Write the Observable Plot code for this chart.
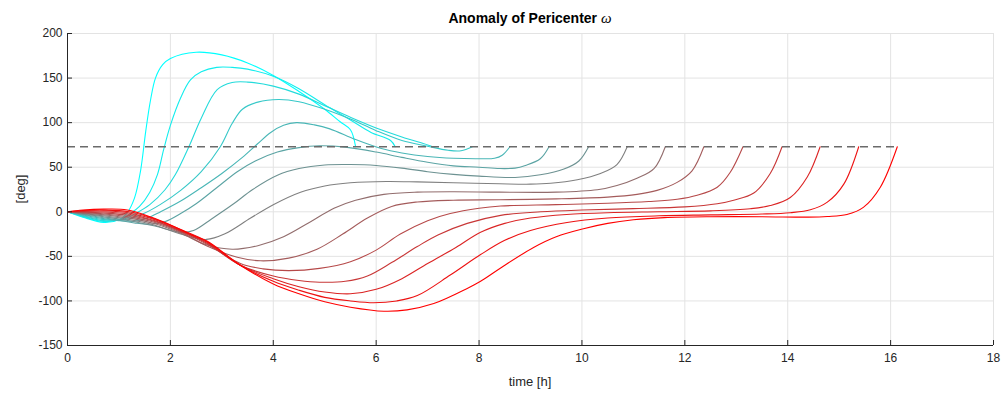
<!DOCTYPE html>
<html><head><meta charset="utf-8">
<script src="https://cdn.jsdelivr.net/npm/d3@7"></script>
<script src="https://cdn.jsdelivr.net/npm/@observablehq/plot@0.6"></script>
<style>html,body{margin:0;padding:0;background:#fff}svg{display:block}</style>
</head><body><div id="chart"></div>
<script>
// ---- data: [time h, omega deg] ----
const curve01 = [[0,0],[0.3,-6],[0.7,-12],[1.0,-9],[1.15,-2],[1.3,15],[1.42,46],[1.52,90],[1.61,124],[1.71,150],[1.85,165],[2.0,172],[2.5,179],[3.0,176],[3.5,167],[4.0,153],[4.5,135],[5.0,115],[5.3,101],[5.5,92],[5.6,73]];
const curve02 = [[0,0],[0.3,-5.4],[0.7,-10.9],[1.0,-9],[1.22,-2],[1.4,6],[1.6,22],[1.75,42],[1.87,70],[2.0,97],[2.2,128],[2.39,148],[2.6,157],[2.9,162],[3.2,162],[3.5,160],[4.0,152],[4.5,138],[5.0,120],[5.5,103],[5.9,89],[6.28,80],[6.37,73]];
const curve03 = [[0,0],[0.3,-4.9],[0.7,-9.9],[1.1,-8],[1.32,-2],[1.6,8],[1.9,25],[2.1,42],[2.36,73],[2.6,105],[2.91,137],[3.2,145],[3.5,145.5],[4.0,141],[4.5,132],[5.0,119],[5.5,106],[6.0,94],[6.5,84],[7.0,75],[7.1,73]];
const curve04 = [[0,0],[0.3,-4.3],[0.7,-8.8],[1.1,-9],[1.48,-2],[1.8,8],[2.2,24],[2.6,45],[2.97,73],[3.2,99],[3.4,115],[3.7,123],[4.1,126],[4.5,123.5],[5.0,115],[5.5,104],[6.0,91],[6.5,80],[7.0,73.5],[7.4,69],[7.65,68.5],[7.87,73]];
const curve05 = [[0,0],[0.3,-3.7],[0.7,-7.7],[1.0,-10],[1.3,-10.5],[1.55,-7],[1.81,0],[2.2,12],[2.6,27],[3.0,43],[3.4,61],[3.69,76],[3.95,89],[4.2,97],[4.45,100],[4.8,97.5],[5.1,93],[5.6,81],[6.1,71],[6.5,66],[7.0,62],[7.5,60],[8.0,59.5],[8.3,60],[8.45,63.5],[8.6,73]];
const curve06 = [[0,0],[0.3,-3.1],[0.7,-6.6],[1.0,-9.5],[1.3,-12.5],[1.6,-14],[1.9,-11],[2.2,-2],[2.5,9],[2.9,27],[3.3,45],[3.65,57],[4.08,67],[4.5,72],[4.9,74],[5.4,72.5],[6.0,67],[6.5,61],[7.0,55.5],[7.5,51.5],[8.0,50],[8.4,48.5],[8.7,49],[8.9,52],[9.19,59.5],[9.36,73]];
const curve07 = [[0,0],[0.3,-2.6],[0.7,-5.6],[1.2,-10],[1.7,-16],[2.2,-23],[2.45,-21],[2.8,-8],[3.23,9],[3.6,25],[4.08,41],[4.5,48.5],[5.0,52.5],[5.5,53],[6.0,52],[6.5,49],[7.0,45],[7.5,42],[8.0,40],[8.7,38.5],[9.19,41.5],[9.65,48],[9.94,57],[10.13,73]];
const curve08 = [[0,0],[0.3,-2],[0.7,-4.5],[1.2,-8.6],[1.7,-15],[2.2,-25],[2.7,-31],[3.05,-25],[3.56,-7],[4.0,8],[4.53,22],[5.0,29],[5.5,32.5],[6.2,34],[6.8,33.5],[7.5,32.5],[8.4,31.4],[9.0,31],[9.39,32],[9.91,36],[10.36,43],[10.68,53],[10.88,73]];
const curve09 = [[0,0],[0.3,-1.4],[0.7,-3.4],[1.2,-7.1],[1.7,-13.5],[2.2,-24],[2.7,-37],[3.2,-42],[3.7,-38],[4.2,-28],[4.7,-12],[5.18,4],[5.6,13],[6.15,19.5],[6.8,22],[7.5,22.5],[8.4,22],[9.5,22],[10.3,24.7],[10.68,29.5],[11.07,37.7],[11.4,48.3],[11.62,73]];
const curve10 = [[0,0],[0.3,-0.9],[0.7,-2.4],[1.2,-5.7],[1.7,-12],[2.2,-23],[2.7,-38],[3.3,-51],[3.75,-55],[4.3,-52],[4.85,-42],[5.35,-25],[5.83,-7],[6.3,6],[6.8,11],[7.5,13],[8.4,13.5],[9.5,14.5],[10.5,16.5],[11.07,19.5],[11.46,24],[11.85,33],[12.14,46],[12.37,73]];
const curve11 = [[0,0],[0.3,-0.3],[0.7,-1.3],[1.2,-4.2],[1.7,-11],[2.2,-22],[2.7,-36],[3.36,-58],[3.8,-64],[4.3,-66],[4.9,-63.5],[5.5,-56],[6.0,-43],[6.47,-25],[7.0,-10],[7.44,-2],[8.0,4],[8.42,6.5],[9.5,8],[10.5,9.5],[11.3,11.5],[11.85,14],[12.24,18.5],[12.63,27.5],[12.88,44],[13.13,73]];
const curve12 = [[0,0],[0.3,0.3],[0.7,-0.2],[1.2,-2.8],[1.7,-10],[2.2,-21.5],[2.7,-35],[3.36,-60],[4.0,-72],[4.5,-77],[4.9,-79],[5.4,-78],[5.83,-72],[6.3,-57],[6.8,-39],[7.2,-26],[7.77,-13],[8.42,-4],[9.2,0],[10.0,2],[11.0,3.5],[12.0,5.5],[12.63,9],[12.95,13],[13.34,21],[13.66,43],[13.89,73]];
const curve13 = [[0,0],[0.3,0.9],[0.7,0.9],[1.2,-1.4],[1.7,-9],[2.2,-21],[2.7,-34],[3.36,-60],[4.0,-75],[4.5,-84],[5.0,-90],[5.5,-92],[6.0,-87],[6.5,-75],[7.0,-58],[7.55,-40],[8.03,-23],[8.5,-13],[9.0,-7],[9.7,-3],[10.5,-1],[11.5,0],[12.5,1],[13.27,3.4],[13.66,7],[14.05,16],[14.38,39],[14.63,73]];
const curve14 = [[0,0],[0.3,1.4],[0.7,1.9],[1.2,0],[1.7,-8],[2.2,-20],[2.7,-33],[3.36,-60],[4.0,-78],[4.5,-88],[5.0,-96],[5.5,-100],[5.95,-102],[6.4,-100],[6.8,-94],[7.44,-71],[8.03,-48],[8.5,-32],[9.0,-21],[9.71,-12],[10.5,-7],[11.5,-4.5],[12.5,-3.5],[13.5,-2.5],[14.05,-1],[14.44,2.2],[14.77,10.8],[15.09,31],[15.38,73]];
const curve15 = [[0,0],[0.3,2],[0.7,3],[1.16,2],[1.81,-10],[2.46,-27],[2.72,-33],[3.36,-60],[4.0,-81],[4.5,-92],[5.0,-101],[5.5,-107],[6.15,-111.5],[6.6,-110],[7.12,-103],[7.77,-86],[8.03,-78],[8.42,-63],[9.06,-40],[9.5,-28],[10.03,-19],[10.5,-13],[11.0,-9],[11.6,-6.5],[12.5,-5.5],[13.5,-5.5],[14.4,-6],[14.77,-5.3],[15.15,-3],[15.47,5],[15.8,27.6],[16.13,73]];

const curves = [curve01,curve02,curve03,curve04,curve05,curve06,curve07,curve08,curve09,curve10,curve11,curve12,curve13,curve14,curve15];

const xTicks = [0,2,4,6,8,10,12,14,16,18];
const yTicks = [-150,-100,-50,0,50,100,150,200];
const refLevel = 73;      // dashed target line
const refEnd = 16.13;     // dashed line extends to last curve's end
const titleMain = "Anomaly of Pericenter ";
const titleSym = "ω";
const xLabel = "time [h]";
const yLabel = "[deg]";

// ---- build table ----
const rows = curves.flatMap((c, i) => c.map(([t, v]) => ({t, v, id: i})));
const interp = d3.interpolateRgb("#00ffff", "#ff0000");
const colorOf = i => interp(i / (curves.length - 1));

const W = 1005, H = 393, mL = 67, mR = 12, mT = 33, mB = 48;
const plotW = W - mL - mR, plotH = H - mT - mB;
const ink = "#262626";
const font = "'Liberation Sans', Arial, Helvetica, sans-serif";

const chart = Plot.plot({
  width: W, height: H,
  marginLeft: mL, marginRight: mR, marginTop: mT, marginBottom: mB,
  style: {fontFamily: font, fontSize: "12px", color: ink, background: "#fff", overflow: "visible"},
  x: {domain: [0, 18], ticks: xTicks, tickSize: 0, tickPadding: 8, label: null, tickFormat: d => String(d)},
  y: {domain: [-150, 200], ticks: yTicks, tickSize: 0, tickPadding: 5, label: null, tickFormat: d => String(d)},
  marks: [
    Plot.ruleX(xTicks, {stroke: "#e3e3e3"}),
    Plot.ruleY(yTicks, {stroke: "#e3e3e3"}),
    Plot.line(rows, {x: "t", y: "v", z: "id", stroke: d => colorOf(d.id), curve: "catmull-rom", strokeWidth: 1.1}),
    Plot.ruleY([{y: refLevel, x1: 0, x2: refEnd}], {y: "y", x1: "x1", x2: "x2", stroke: "#6b6b6b", strokeWidth: 1.5, strokeDasharray: "8,5"}),
    Plot.ruleX([0], {stroke: ink}),
    Plot.ruleY([-150], {stroke: ink}),
    Plot.ruleX(xTicks, {insetTop: plotH - 5, stroke: ink}),
    Plot.ruleY(yTicks, {insetRight: plotW - 5, stroke: ink})
  ]
});

const svg = d3.select(chart);
const sx = chart.scale("x"), sy = chart.scale("y");
const cx = sx.apply(9);
const title = svg.append("text")
  .attr("x", cx).attr("y", 23).attr("text-anchor", "middle")
  .attr("fill", "#000").style("font-family", font).style("font-size", "14px");
title.append("tspan").attr("font-weight", "bold").text(titleMain);
title.append("tspan").attr("font-style", "italic")
  .style("font-family", "'Liberation Serif', 'DejaVu Serif', serif").style("font-size", "15px").text(titleSym);

svg.append("text").attr("x", cx).attr("y", 386).attr("text-anchor", "middle")
  .attr("fill", ink).style("font-family", font).style("font-size", "13px").text(xLabel);

svg.append("text").attr("transform", `translate(25,${sy.apply(25)}) rotate(-90)`)
  .attr("text-anchor", "middle").attr("fill", ink)
  .style("font-family", font).style("font-size", "13px").text(yLabel);

document.getElementById("chart").appendChild(chart);
</script></body></html>
